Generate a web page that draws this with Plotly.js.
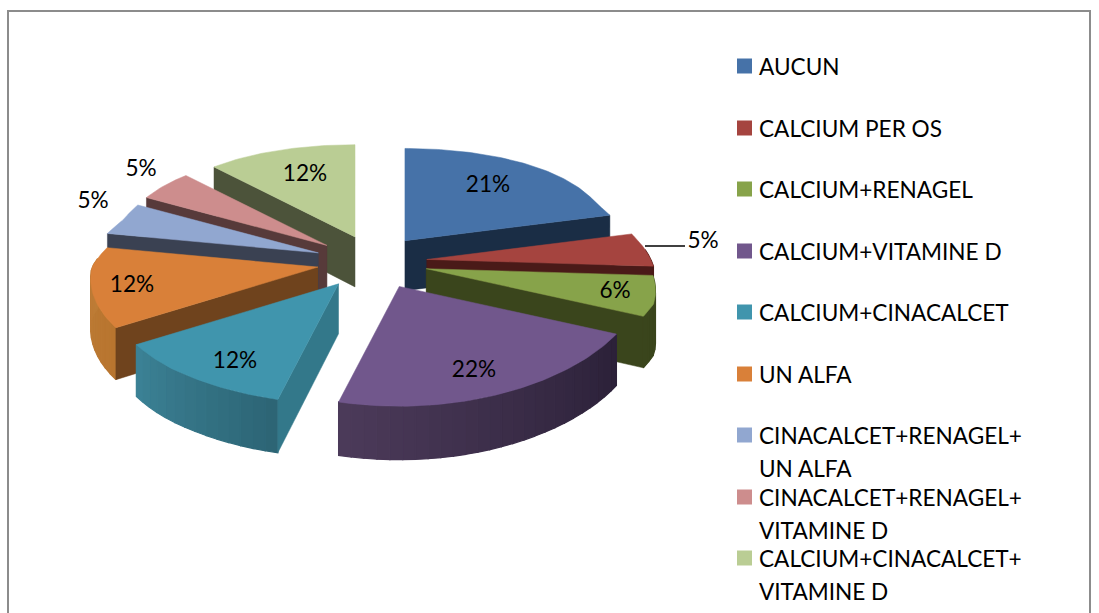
<!DOCTYPE html>
<html><head><meta charset="utf-8">
<script src="https://cdn.plot.ly/plotly-3.0.1.min.js"></script>
<style>html,body{margin:0;padding:0;background:#fff}#c{width:1099px;height:613px}</style></head>
<body><div id="c"></div>
<script>
// ---- data ----
const categories = ["AUCUN","CALCIUM PER OS","CALCIUM+RENAGEL","CALCIUM+VITAMINE D","CALCIUM+CINACALCET","UN ALFA","CINACALCET+RENAGEL+ UN ALFA","CINACALCET+RENAGEL+ VITAMINE D","CALCIUM+CINACALCET+ VITAMINE D"];
const values = [21,5,6,22,12,12,5,5,12];
// ---- styles ----
const topColors  = ["#4672A8","#A5443F","#87A34A","#71578C","#4095AD","#D98039","#91A7D0","#CD8D8D","#BACD94"];
const faceColors = ["#1A2D45","#4A1A18","#3A451C","#2F2440","#33788A","#6F431D","#3A4152","#573A3A","#4C533A"];
const arcFrom    = [[26,45,69],[74,26,24],[58,69,28],[43,33,56],[44,100,116],[184,117,47],[58,65,82],[87,58,58],[76,83,58]];
const arcTo      = [[26,45,69],[74,26,24],[58,69,28],[76,58,90],[60,130,150],[190,125,55],[58,65,82],[87,58,58],[76,83,58]];
const paintOrder = [8,0,7,6,1,5,2,4,3];
// ---- placement of the drawing ----
const cx=372, cy=262, explodeX=57, explodeY=27, ry=106, persY=0.13, depth=50, persD=0.07;
const nudgeX=[-2,-2,-1,3,0,2,0,0,4];
const labelX=[488,703,615,474,235,132,93,141,305];
const labelY=[183,239,289,368,359,283,199,167,172];
const textShift=3;
const legendX=737, legendTextX=759;
const legendY=[66,128,189,251,312,374,435,497,558];
const legendLineGap=33;

const rad=d=>d*Math.PI/180;
const total=values.reduce((a,b)=>a+b,0);
const traces=[];
function poly(xs,ys,color,name,lw){
  traces.push({type:'scatter',mode:'lines',x:xs.concat(xs[0]),y:ys.concat(ys[0]),fill:'toself',
    fillcolor:color,line:{color:color,width:lw===undefined?0.5:lw},hoverinfo:name?'name':'skip',name:name||'',showlegend:false});
}
const slices=[];let acc=0;
values.forEach((v,i)=>{
  const s=acc/total*360,e=(acc+v)/total*360,m=(s+e)/2;acc+=v;
  slices[i]={s,e,ax:cx+nudgeX[i]+explodeX*Math.sin(rad(m)),ay:cy-explodeY*Math.cos(rad(m))};
});
function rim(sl,t){const c=Math.cos(rad(t)),n=Math.sin(rad(t));
  let r;
  if(n>=0) r=Math.max(206,Math.min(240,224-50*c));
  else if(c>=0) r=Math.max(206,226-60*c);
  else r=Math.min(244,226-25*c);
  return [sl.ax+r*n, sl.ay-ry*(1-persY*c)*c, depth*(1-persD*c)];}
paintOrder.forEach(i=>{
  const sl=slices[i];
  // rim wall, cut into short bands for the shading
  const steps=Math.max(2,Math.round((sl.e-sl.s)/3));
  for(let k=0;k<steps;k++){
    const a=sl.s+(sl.e-sl.s)*k/steps,b=sl.s+(sl.e-sl.s)*(k+1)/steps;
    if(Math.cos(rad((a+b)/2))>0.08) continue;
    const p=rim(sl,a),q=rim(sl,b),f=(k+0.5)/steps;
    const col='rgb('+arcFrom[i].map((c,j)=>Math.round(c+(arcTo[i][j]-c)*f)).join(',')+')';
    poly([p[0],q[0],q[0],p[0]],[p[1],q[1],q[1]+q[2],p[1]+p[2]],col,null,1.2);
  }
  // cut faces turned towards the viewer
  const showFace=t=>{const p=rim(sl,t);
    poly([sl.ax,p[0],p[0],sl.ax],[sl.ay,p[1],p[1]+p[2],sl.ay+depth],faceColors[i]);};
  if(Math.sin(rad(sl.s))<-0.001) showFace(sl.s);
  if(Math.sin(rad(sl.e))>0.001) showFace(sl.e);
  // top face
  const xs=[sl.ax],ys=[sl.ay];
  for(let t=sl.s;t<sl.e;t+=1){const p=rim(sl,t);xs.push(p[0]);ys.push(p[1]);}
  const p=rim(sl,sl.e);xs.push(p[0]);ys.push(p[1]);
  poly(xs,ys,topColors[i],categories[i]);
});
const font={family:'Lato, "Open Sans", sans-serif',size:22.6,color:'#000'};
// leader line of the small red slice
traces.push({type:'scatter',mode:'lines',x:[645,685],y:[246,246],line:{color:'#000',width:1.6},hoverinfo:'skip',showlegend:false});
// percentage labels
traces.push({type:'scatter',mode:'text',x:labelX,y:labelY.map(y=>y+textShift),text:values.map(v=>v+'%'),textposition:'middle center',textfont:font,hoverinfo:'skip',showlegend:false});
// key
traces.push({type:'scatter',mode:'markers',x:categories.map(()=>legendX+7.5),y:legendY,
  marker:{symbol:'square',size:15,color:topColors,line:{width:0}},hoverinfo:'skip',showlegend:false});
const keyX=[],keyY=[],keyT=[];
categories.forEach((c,i)=>{
  const parts=c.split('+ ');
  parts.forEach((part,j)=>{
    keyX.push(legendTextX);
    keyY.push(legendY[i]+j*legendLineGap+textShift);
    keyT.push(j<parts.length-1?part+'+':part);
  });
});
traces.push({type:'scatter',mode:'text',x:keyX,y:keyY,text:keyT,textposition:'middle right',textfont:font,hoverinfo:'skip',showlegend:false,cliponaxis:false});

Plotly.newPlot('c',traces,{
  width:1099,height:613,margin:{l:0,r:0,t:0,b:0},paper_bgcolor:'#fff',plot_bgcolor:'#fff',showlegend:false,
  xaxis:{range:[0,1099],visible:false,fixedrange:true},
  yaxis:{range:[613,0],visible:false,fixedrange:true},
  shapes:[{type:'rect',xref:'x',yref:'y',x0:8,y0:11,x1:1090,y1:650,line:{color:'#8c8c8c',width:2},layer:'below'}]
},{displayModeBar:false,staticPlot:true});
</script></body></html>
